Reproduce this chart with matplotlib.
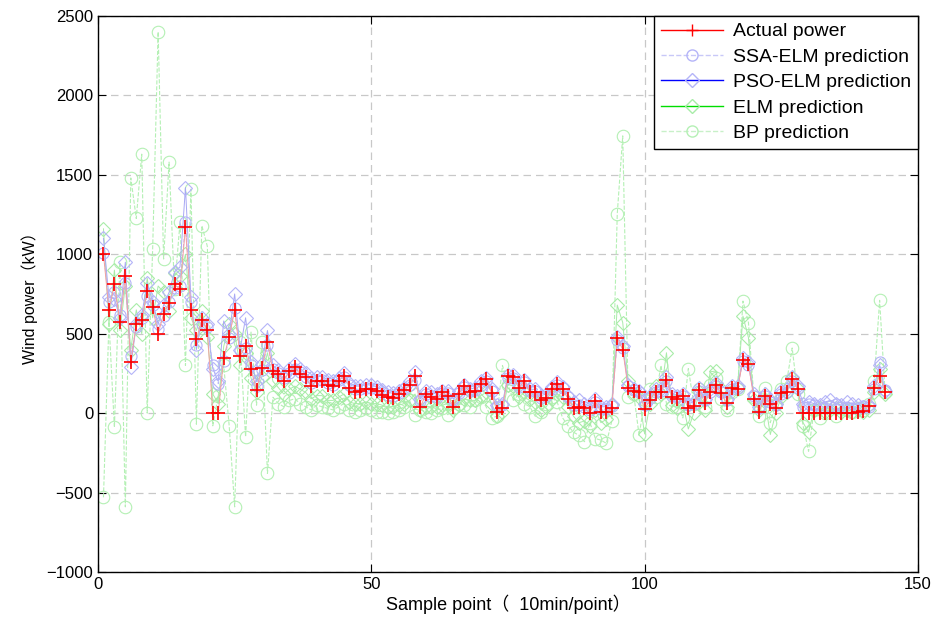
import numpy as np
import matplotlib
matplotlib.use('Agg')
import matplotlib.pyplot as plt
from matplotlib.lines import Line2D

plt.rcParams['font.family'] = ['Liberation Sans', 'Noto Sans CJK SC', 'DejaVu Sans']

# sample index 1..144
actual = [1000, 650, 810, 575, 860, 320, 560, 585, 770, 665, 500, 625,
          690, 810, 780, 1170, 650, 465, 585, 525, 0, 0, 350, 480,
          650, 360, 420, 275, 145, 285, 450, 265, 245, 205, 265, 288,
          245, 225, 170, 205, 205, 175, 170, 200, 235, 160, 135, 140,
          150, 150, 140, 115, 100, 95, 120, 145, 175, 235, 40, 120,
          100, 90, 130, 110, 40, 120, 170, 135, 140, 185, 215, 125,
          10, 30, 235, 225, 155, 205, 130, 135, 80, 95, 150, 185,
          150, 90, 30, 40, 30, 0, 75, 5, 10, 30, 470, 400,
          155, 140, 130, 25, 85, 135, 135, 210, 100, 90, 110, 30,
          45, 145, 65, 130, 175, 125, 65, 155, 150, 335, 310, 90,
          10, 110, 55, 35, 125, 135, 215, 150, 0, 0, 0, 0,
          0, 0, 0, 0, 0, 0, 5, 15, 45, 155, 235, 135]

ssa_elm = [1010, 700, 760, 620, 820, 360, 540, 600, 740, 680, 530, 610,
           700, 790, 800, 1200, 700, 430, 560, 540, 300, 185, 330, 470,
           660, 400, 410, 300, 170, 270, 430, 280, 250, 220, 250, 280,
           260, 230, 190, 210, 210, 190, 180, 210, 230, 175, 150, 150,
           160, 160, 150, 130, 115, 110, 125, 150, 180, 210, 75, 120,
           110, 100, 125, 125, 80, 125, 165, 140, 145, 180, 205, 140,
           40, 50, 220, 220, 165, 195, 140, 140, 95, 105, 150, 180,
           155, 100, 50, 50, 40, 20, 70, 25, 25, 45, 460, 410,
           170, 145, 135, 50, 95, 135, 140, 205, 110, 100, 110, 50,
           60, 140, 80, 130, 170, 130, 80, 150, 155, 330, 300, 110,
           35, 105, 70, 50, 120, 135, 205, 155, 40, 60, 50, 40,
           35, 45, 60, 40, 30, 35, 30, 45, 40, 150, 320, 145]

pso_elm = [1100, 730, 720, 600, 950, 290, 560, 620, 820, 700, 560, 680,
           760, 890, 920, 1420, 730, 400, 600, 560, 280, 200, 580, 500,
           750, 400, 600, 320, 200, 310, 520, 300, 270, 240, 280, 310,
           280, 250, 220, 230, 230, 210, 200, 220, 250, 190, 170, 170,
           180, 175, 165, 145, 130, 125, 140, 160, 200, 260, 90, 140,
           130, 120, 140, 140, 90, 140, 180, 150, 160, 200, 220, 150,
           50, 60, 240, 240, 175, 210, 150, 150, 110, 120, 165, 195,
           165, 110, 70, 80, 60, 40, 90, 40, 40, 60, 480, 420,
           180, 150, 140, 60, 110, 150, 150, 230, 120, 110, 120, 60,
           70, 160, 90, 150, 190, 140, 90, 170, 170, 350, 320, 120,
           40, 120, 80, 60, 140, 150, 230, 170, 60, 70, 60, 50,
           70, 80, 60, 50, 70, 60, 50, 40, 50, 170, 300, 140]

elm = [1160, 560, 900, 520, 800, 400, 650, 500, 850, 600, 800, 760,
       640, 880, 860, 1000, 600, 520, 640, 480, 120, 60, 420, 560,
       500, 300, 380, 220, 130, 230, 380, 200, 160, 120, 150, 170,
       150, 130, 90, 110, 110, 80, 80, 100, 120, 70, 60, 60,
       70, 60, 60, 50, 40, 40, 50, 60, 80, 120, 20, 40,
       40, 40, 50, 60, 20, 50, 90, 80, 80, 110, 130, 60,
       -20, 10, 180, 170, 100, 130, 90, 70, 20, 40, 90, 120,
       100, 40, -20, -60, -50, -80, 20, -60, -40, 50, 680, 570,
       200, 120, 100, -130, 60, 170, 120, 380, 50, 30, 60, -100,
       0, 130, 20, 260, 265, 150, 40, 140, 160, 610, 475, 80,
       20, 80, -135, 0, 100, 130, 220, 150, -60, -120, 20, 30,
       10, 20, 30, 10, 20, 10, 20, 10, 20, 130, 280, 120]

bp = [-530, 575, -90, 950, -590, 1480, 1225, 1630, 0, 1036, 2400, 970,
      1580, 780, 1200, 300, 1410, -70, 1180, 1050, -80, 110, 300, -80,
      -590, 450, -150, 510, 50, 445, -380, 100, 60, 40, 80, 90,
      60, 40, 20, 50, 40, 30, 20, 40, 60, 20, 10, 20,
      30, 20, 10, 10, 0, 10, 20, 40, 80, -10, 20, 10,
      0, 20, 30, -10, 30, 60, 50, 40, 80, 100, 40, -30,
      -20, 300, 180, 80, 120, 60, 40, -20, 10, 60, 100, 70,
      -30, -80, -120, -140, -180, -60, -160, -170, -190, -50, 1255, 1745,
      100, 120, -140, 80, 150, 100, 300, 60, 40, 80, -30, 280,
      60, 150, 40, 180, 220, 90, 20, 130, 150, 705, 570, 100,
      -20, 160, -60, 60, 150, 200, 410, 120, -80, -240, 20, -30,
      0, 40, -20, 30, 20, 10, 30, 20, 60, 200, 710, 130]

x = np.arange(1, len(actual) + 1)

fig = plt.figure(figsize=(9.37, 6.22), dpi=100)
ax = fig.add_axes([0.1046, 0.0804, 0.875, 0.894])

ax.plot(x, bp, color='#b4f0b4', ls='--', lw=0.8, marker='o', ms=9,
        mfc='none', mec='#b4f0b4', mew=0.8)
ax.plot(x, elm, color='#a8eca8', ls='-', lw=0.7, marker='D', ms=7,
        mfc='none', mec='#a8eca8', mew=0.8)
ax.plot(x, pso_elm, color='#a8a8f4', ls='-', lw=0.7, marker='D', ms=7,
        mfc='none', mec='#b4b4f8', mew=0.8)
ax.plot(x, ssa_elm, color='#b8b8f8', ls='--', lw=0.7, marker='o', ms=8,
        mfc='none', mec='#b4b4f8', mew=0.8)
ax.plot(x, actual, color='#f4a0a0', ls='-', lw=0.7, marker='+', ms=9.5,
        mec='red', mew=1.2)

ax.set_xlim(0, 150)
ax.set_ylim(-1000, 2500)
ax.set_xticks([0, 50, 100, 150])
ax.set_yticks(np.arange(-1000, 2501, 500))
ax.grid(True, color='#c8c8c8', ls=(0, (6, 4)), lw=0.9)
ax.tick_params(direction='in', top=True, right=True, labelsize=12, length=6)
for s in ax.spines.values():
    s.set_linewidth(1.0)

ax.set_xlabel('Sample point（  10min/point）', fontsize=13, labelpad=2)
ax.set_ylabel('Wind power（kW）', fontsize=11.5, labelpad=6)

handles = [
    Line2D([], [], color='red', lw=1, marker='+', ms=9, mec='red'),
    Line2D([], [], color='#c8c8f8', ls='--', lw=1, marker='o', ms=8, mfc='none', mec='#b4b4f8'),
    Line2D([], [], color='blue', lw=1, marker='D', ms=7, mfc='none', mec='#b4b4f8'),
    Line2D([], [], color='#00dd00', lw=1, marker='D', ms=7, mfc='none', mec='#a8eca8'),
    Line2D([], [], color='#c8f0c8', ls='--', lw=1, marker='o', ms=8, mfc='none', mec='#b4f0b4'),
]
labels = ['Actual power', 'SSA-ELM prediction', 'PSO-ELM prediction',
          'ELM prediction', 'BP prediction']
leg = ax.legend(handles, labels, loc='upper right', fontsize=14,
                fancybox=False, framealpha=1, edgecolor='black',
                borderaxespad=0.0, handlelength=3.2, labelspacing=0.4,
                borderpad=0.35, handletextpad=0.5)
leg.get_frame().set_linewidth(1.0)

fig.savefig('out.png', dpi=100)
